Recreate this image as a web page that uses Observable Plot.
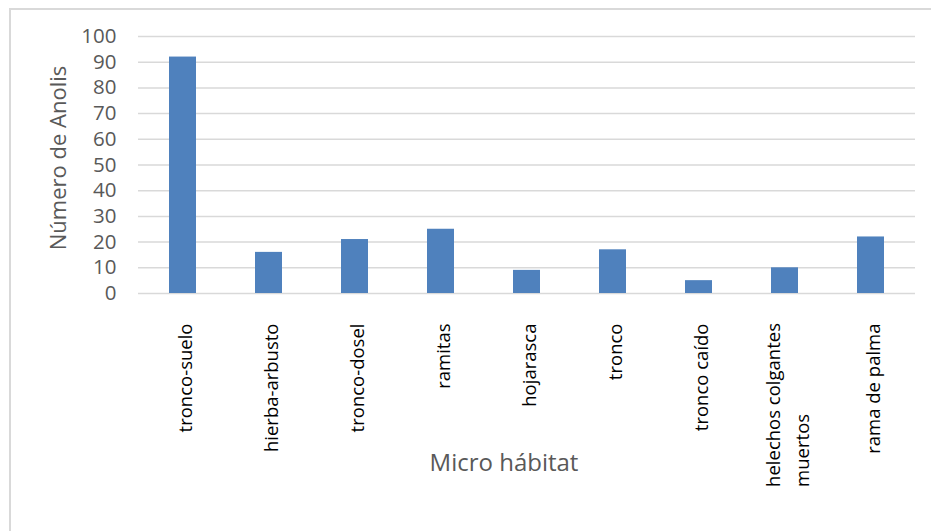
<!DOCTYPE html>
<html>
<head>
<meta charset="utf-8">
<script src="https://cdn.jsdelivr.net/npm/d3@7"></script>
<script src="https://cdn.jsdelivr.net/npm/@observablehq/plot@0.6"></script>
<style>
  html, body { margin: 0; padding: 0; background: #fff; overflow: hidden; }
  #wrap { position: relative; width: 931px; height: 531px; overflow: hidden; }
  #frame { position: absolute; left: 9px; top: 8px; width: 1000px; height: 600px; border: 2px solid #d9d9d9; box-sizing: border-box; }
  #chart { position: absolute; left: 0; top: 0; }
</style>
</head>
<body>
<div id="wrap"><div id="frame"></div><div id="chart"></div></div>
<script>
const categories = ["tronco-suelo", "hierba-arbusto", "tronco-dosel", "ramitas", "hojarasca", "tronco", "tronco caído", "helechos colgantes\nmuertos", "rama de palma"];
const counts = [92, 16, 21, 25, 9, 17, 5, 10, 22];
const yTicks = [0, 10, 20, 30, 40, 50, 60, 70, 80, 90, 100];
const yTitle = "Número de Anolis";
const xTitle = "Micro hábitat";

const data = categories.map((c, i) => ({cat: c, n: counts[i]}));
const FONT = "'Open Sans', sans-serif";
const xLabelSize = 18.5;

const ctx = document.createElement("canvas").getContext("2d");
ctx.font = `${xLabelSize}px 'Open Sans'`;
const longest = s => Math.max(...s.split("\n").map(l => ctx.measureText(l).width));

const single = data.filter(d => !d.cat.includes("\n"));
const multi = data.filter(d => d.cat.includes("\n"));

const labelTop = 30; // distance below axis where labels end

const chart = Plot.plot({
  width: 931,
  height: 531,
  marginLeft: 138,
  marginRight: 16,
  marginTop: 36,
  marginBottom: 238,
  style: {fontFamily: FONT, background: "transparent"},
  x: {domain: categories, paddingInner: 0.69, paddingOuter: 0.345, axis: null},
  y: {domain: [0, 100], ticks: yTicks, axis: null},
  marks: [
    Plot.gridY(yTicks, {stroke: "#d9d9d9", strokeOpacity: 1, strokeWidth: 1.5}),
    Plot.axisY(yTicks, {tickSize: 0, tickPadding: 22, fontSize: 20.5, fill: "#595959", label: null}),
    Plot.barY(data, {x: "cat", y: "n", fill: "#4f81bd"}),
    Plot.text(single, {x: "cat", text: "cat", frameAnchor: "bottom", rotate: -90, textAnchor: "end", lineAnchor: "middle", dx: 3, dy: labelTop, fontSize: xLabelSize, fill: "#000"}),
    Plot.text(multi, {x: "cat", text: "cat", frameAnchor: "bottom", rotate: -90, textAnchor: "start", lineAnchor: "middle", fontSize: xLabelSize, fill: "#000", lineHeight: 1.6}),
    Plot.text([yTitle], {frameAnchor: "left", rotate: -90, textAnchor: "middle", dx: -80, dy: -7, fontSize: 22, fill: "#595959"}),
    Plot.text([xTitle], {frameAnchor: "bottom", textAnchor: "middle", dx: -23, dy: 177, fontSize: 24, fill: "#595959"})
  ]
});
document.getElementById("chart").appendChild(chart);

// shift multi-line labels so their longest line ends at the same top as the others
const multiOffset = labelTop + longest(multi[0].cat);
chart.querySelectorAll("g[aria-label='text']")[1].setAttribute("transform", `translate(14,${multiOffset})`);
</script>
</body>
</html>
